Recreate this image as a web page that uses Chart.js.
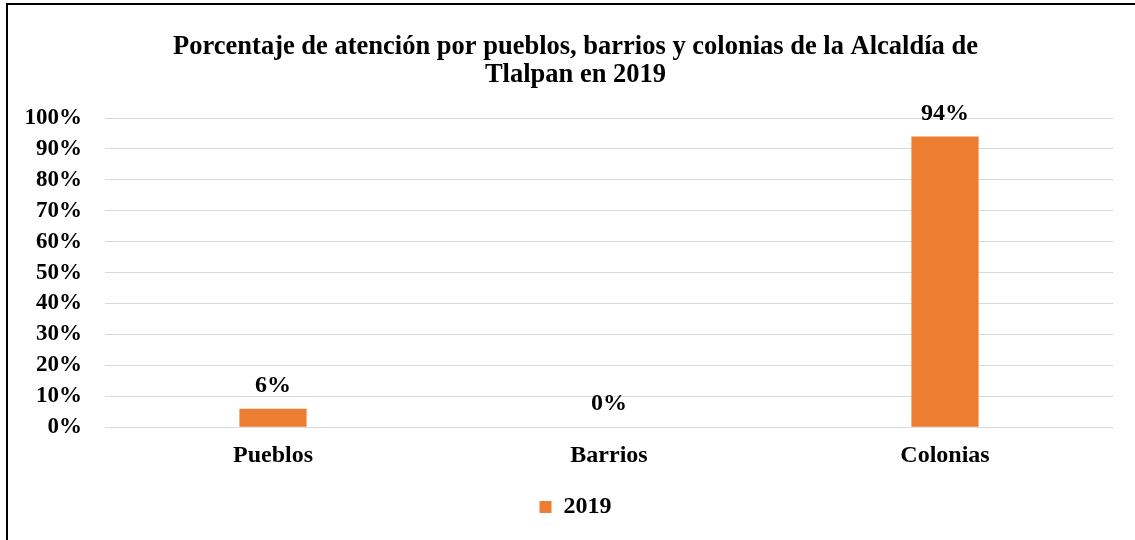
<!DOCTYPE html>
<html>
<head>
<meta charset="utf-8">
<script src="https://cdn.jsdelivr.net/npm/chart.js@4.4.1/dist/chart.umd.min.js"></script>
<style>
  html, body { margin: 0; padding: 0; background: #fff; overflow: hidden; }
  #wrap { position: relative; width: 1135px; height: 540px; }
  #frame { position: absolute; left: 6px; top: 3px; width: 1140px; height: 545px; border: 2px solid #000; box-sizing: border-box; pointer-events: none; }
  canvas { position: absolute; left: 0; top: 0; }
</style>
</head>
<body>
<div id="wrap">
  <canvas id="chBar" width="1135" height="540"></canvas>
  <div id="frame"></div>
</div>
<script>
// data
var categories = ['Pueblos', 'Barrios', 'Colonias'];
var seriesName = '2019';
var values = [6, 0, 94];
var yTicks = [0, 10, 20, 30, 40, 50, 60, 70, 80, 90, 100];

var orange = '#ED7D31';
var serif = "'Liberation Serif', 'Times New Roman', serif";

// labels above bars
var barLabels = {
  id: 'barLabels',
  afterDatasetsDraw: function(chart) {
    var ctx = chart.ctx;
    var meta = chart.getDatasetMeta(0);
    ctx.save();
    ctx.font = 'bold 24px ' + serif;
    ctx.fillStyle = '#000';
    ctx.textAlign = 'center';
    ctx.textBaseline = 'middle';
    meta.data.forEach(function(bar, i) {
      ctx.fillText(values[i] + '%', bar.x, bar.y - 23);
    });
    ctx.restore();
  }
};

// title and legend are centred on the whole frame, not on the padded box
var shiftBoxes = {
  id: 'shiftBoxes',
  afterLayout: function(chart) {
    [chart.titleBlock, chart.legend].forEach(function(b) {
      if (b) { b.left += 19; b.right += 19; }
    });
  }
};

new Chart(document.getElementById('chBar'), {
  type: 'bar',
  data: {
    labels: categories,
    datasets: [{
      label: seriesName,
      data: values,
      backgroundColor: orange,
      borderWidth: 0,
      barPercentage: 0.2,
      categoryPercentage: 1
    }]
  },
  options: {
    responsive: false,
    animation: false,
    layout: { padding: { left: 0, right: 22, top: 0, bottom: 11 } },
    plugins: {
      title: {
        display: true,
        text: ['Porcentaje de atención por pueblos, barrios y colonias de la Alcaldía de', 'Tlalpan en 2019'],
        color: '#000',
        font: { family: serif, size: 26.5, weight: 'bold', lineHeight: 28 / 26.5 },
        padding: { top: 33, bottom: 29 }
      },
      legend: {
        position: 'bottom',
        labels: {
          color: '#000',
          boxWidth: 12,
          boxHeight: 12,
          padding: 10,
          font: { family: serif, size: 24, weight: 'bold' }
        }
      },
      tooltip: { enabled: false }
    },
    scales: {
      x: {
        afterFit: function(scale) { scale.height += 9; },
        grid: { display: false },
        border: { display: false },
        ticks: { color: '#000', padding: 6, font: { family: serif, size: 24, weight: 'bold' } }
      },
      y: {
        min: 0,
        max: 100,
        afterFit: function(scale) { scale.width = 105; },
        afterBuildTicks: function(scale) {
          scale.ticks = yTicks.map(function(v) { return { value: v }; });
        },
        grid: { color: '#d9d9d9', drawTicks: false },
        border: { display: false },
        ticks: {
          color: '#000',
          padding: 23,
          font: { family: serif, size: 23, weight: 'bold' },
          callback: function(v) { return v + '%'; }
        }
      }
    }
  },
  plugins: [barLabels, shiftBoxes]
});
</script>
</body>
</html>
